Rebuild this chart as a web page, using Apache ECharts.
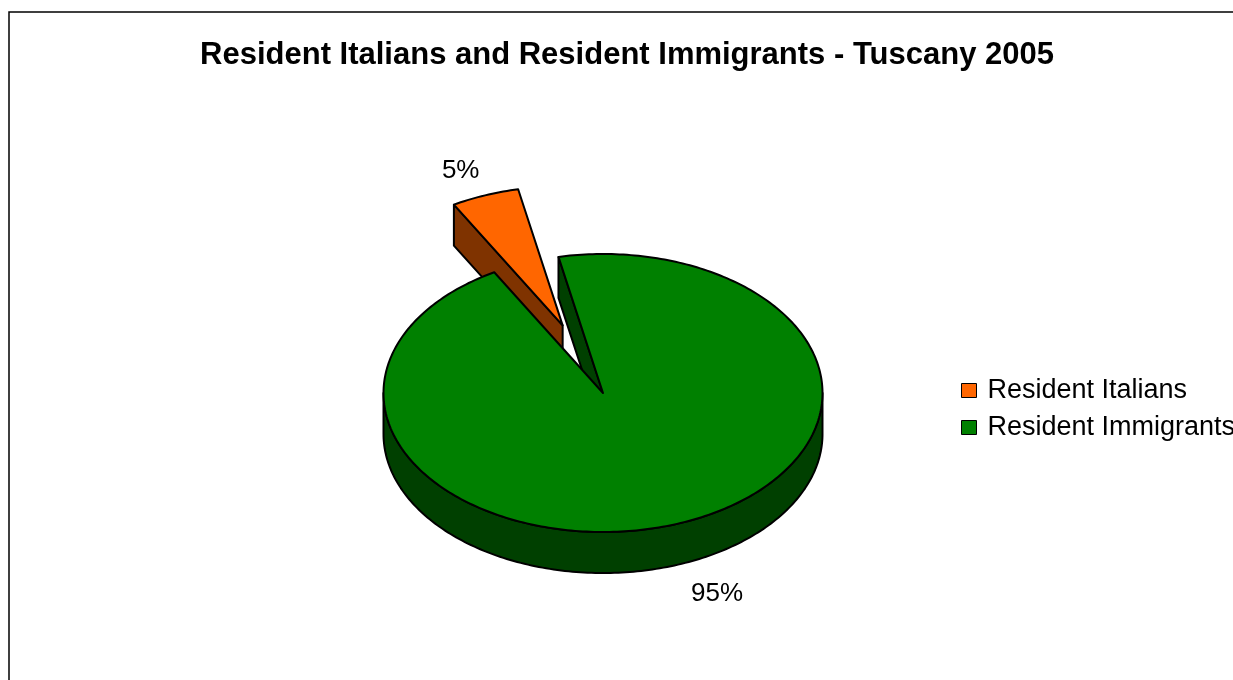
<!DOCTYPE html>
<html>
<head>
<meta charset="utf-8">
<script src="https://cdn.jsdelivr.net/npm/echarts@6/dist/echarts.min.js"></script>
<style>
  html, body { margin: 0; padding: 0; background: #fff; }
  #chart { width: 1233px; height: 680px; }
</style>
</head>
<body>
<div id="chart"></div>
<script>
// Share of residents, Tuscany 2005
const categories = ['Resident Italians', 'Resident Immigrants'];
const values = [5, 95];

// Slice styling
const topColors = ['#FF6600', '#008000'];
const sideColors = ['#7F3300', '#004000'];
const explodeRatio = [0.52, 0];

const FONT = '"Liberation Sans", Arial, Helvetica, sans-serif';

// 3D pie layout: ellipse of the top face, thickness and rotation of first slice
const PIE = { cx: 603, cy: 393, rx: 219.5, ry: 139, depth: 41, startDeg: 330.3 };

function makeRender(idx) {
  return function (params, api) {
    const v = api.value(0);
    const total = values.reduce((a, b) => a + b, 0);
    const before = values.slice(0, idx).reduce((a, b) => a + b, 0);
    const rad = Math.PI / 180;
    const t0 = (PIE.startDeg + 360 * before / total) * rad;
    const t1 = t0 + (360 * v / total) * rad;
    const tm = (t0 + t1) / 2;
    const e = explodeRatio[idx];
    const ox = PIE.cx + e * PIE.rx * Math.sin(tm);
    const oy = PIE.cy - e * PIE.ry * Math.cos(tm);
    const D = PIE.depth;
    const pt = (t, d) => [ox + PIE.rx * Math.sin(t), oy - PIE.ry * Math.cos(t) + (d || 0)];
    const arc = (a, b, d) => {
      const n = Math.max(2, Math.ceil(Math.abs(b - a) / rad));
      const out = [];
      for (let k = 0; k <= n; k++) out.push(pt(a + (b - a) * k / n, d));
      return out;
    };
    const edge = { stroke: '#000', lineWidth: 2, lineJoin: 'round' };
    const children = [];

    // outer wall on the near half of the rim
    for (let k = -1; k <= 2; k++) {
      const lo = Math.max(t0, (90 + 360 * k) * rad);
      const hi = Math.min(t1, (270 + 360 * k) * rad);
      if (hi > lo) {
        children.push({
          type: 'polygon',
          shape: { points: arc(lo, hi, 0).concat(arc(hi, lo, D)) },
          style: Object.assign({ fill: sideColors[idx] }, edge)
        });
      }
    }

    // radial cut faces that turn toward the viewer
    const cutFace = (t) => ({
      type: 'polygon',
      shape: { points: [pt(t, 0), [ox, oy], [ox, oy + D], pt(t, D)] },
      style: Object.assign({ fill: sideColors[idx] }, edge)
    });
    if (Math.sin(t0) < 0) children.push(cutFace(t0));
    if (Math.sin(t1) > 0) children.push(cutFace(t1));

    // top face
    children.push({
      type: 'polygon',
      shape: { points: [[ox, oy]].concat(arc(t0, t1, 0)) },
      style: Object.assign({ fill: topColors[idx] }, edge)
    });

    // percentage label outside the rim
    const rim = pt(tm, Math.cos(tm) < 0 ? D : 0);
    children.push({
      type: 'text',
      x: rim[0] + 86 * Math.sin(tm) + 6,
      y: rim[1] - 29 * Math.cos(tm) + 3,
      style: {
        text: Math.round(v / total * 100) + '%',
        fontSize: 26,
        fontFamily: FONT,
        fill: '#000',
        align: 'center',
        verticalAlign: 'middle'
      }
    });

    return { type: 'group', children: children };
  };
}

const chart = echarts.init(document.getElementById('chart'), null, { renderer: 'canvas' });

chart.setOption({
  backgroundColor: '#fff',
  animation: false,
  title: {
    text: 'Resident Italians and Resident Immigrants - Tuscany 2005',
    left: 622,
    top: 35,
    textAlign: 'center',
    textStyle: { fontFamily: FONT, fontSize: 31, fontWeight: 'bold', color: '#000' }
  },
  legend: {
    orient: 'vertical',
    left: 961,
    top: 377,
    padding: 0,
    itemWidth: 15,
    itemHeight: 14,
    itemGap: 10,
    icon: 'rect',
    selectedMode: false,
    data: categories,
    itemStyle: { borderColor: '#000', borderWidth: 1 },
    textStyle: { fontFamily: FONT, fontSize: 27, color: '#000', lineHeight: 24, padding: [0, 0, 0, 6] }
  },
  graphic: [{
    type: 'rect',
    silent: true,
    shape: { x: 9, y: 12, width: 1260, height: 700 },
    style: { fill: 'none', stroke: '#000', lineWidth: 1.5 }
  }],
  series: categories.map((name, i) => ({
    type: 'custom',
    name: name,
    coordinateSystem: 'none',
    data: [[values[i]]],
    itemStyle: { color: topColors[i], borderColor: '#000', borderWidth: 1 },
    renderItem: makeRender(i)
  }))
});
</script>
</body>
</html>
